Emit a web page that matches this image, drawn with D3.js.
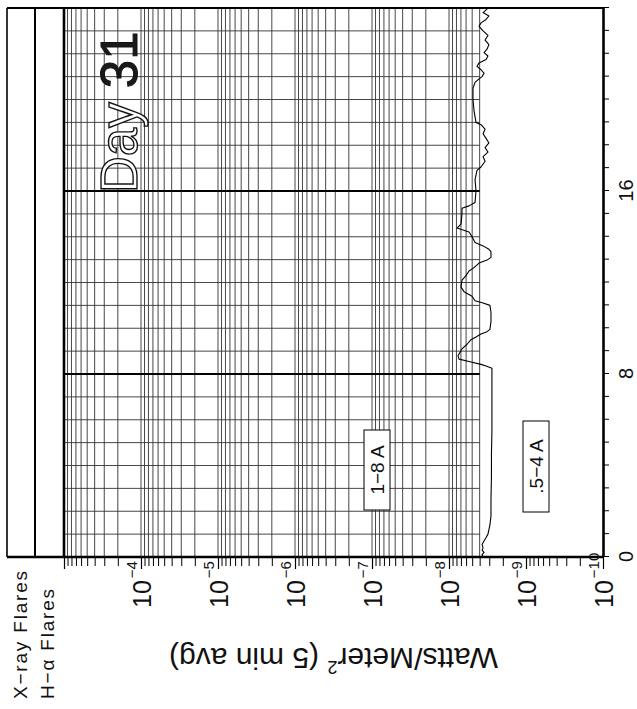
<!DOCTYPE html>
<html>
<head>
<meta charset="utf-8">
<script src="https://cdn.jsdelivr.net/npm/d3@7"></script>
<style>
  html, body { margin: 0; padding: 0; background: #fff; }
  svg { display: block; }
  text { font-family: "Liberation Sans", Arial, Helvetica, sans-serif; fill: #111; }
</style>
</head>
<body>
<svg id="chart" width="637" height="709"></svg>
<script>
// GOES X-ray flux, 5-minute averages for day 31 (hours UT, W/m^2), 1–8 Å channel
const hours = [
  0.00, 0.10, 0.20, 0.30, 0.40, 0.55, 0.70, 0.85, 1.00, 1.20, 1.40, 1.80, 2.50, 3.50, 4.50,
  5.50, 6.50, 7.50, 8.25, 8.35, 8.42, 8.55, 8.65, 8.80, 8.95, 9.10, 9.30, 9.50, 9.62, 9.75,
  9.85, 9.95, 10.30, 10.70, 11.00, 11.10, 11.20, 11.40, 11.60, 11.80, 12.10, 12.30, 12.50, 12.65, 12.85,
  12.98, 13.10, 13.35, 13.45, 13.60, 13.75, 14.00, 14.21, 14.38, 14.55, 15.00, 15.25, 15.35, 15.50, 16.00,
  16.50, 16.90, 17.05, 17.30, 17.50, 17.70, 17.90, 18.10, 18.30, 18.50, 18.70, 18.90, 19.00, 19.50, 20.00,
  20.50, 20.75, 20.90, 21.00, 21.15, 21.30, 21.45, 21.60, 21.75, 21.90, 22.05, 22.20, 22.40, 22.60, 22.80,
  23.00, 23.20, 23.35, 23.50, 23.65, 23.80, 23.95, 24.00
];
const fluxLong = [
  3.61e-9, 3.72e-9, 3.51e-9, 3.72e-9, 3.61e-9, 3.72e-9, 3.51e-9, 3.30e-9, 3.12e-9, 3.03e-9, 2.94e-9, 2.85e-9, 2.85e-9, 2.81e-9, 2.81e-9,
  2.77e-9, 2.77e-9, 2.77e-9, 2.77e-9, 3.30e-9, 3.84e-9, 5.50e-9, 7.41e-9, 7.64e-9, 7.19e-9, 6.78e-9, 5.83e-9, 5.18e-9, 4.46e-9, 3.84e-9,
  3.21e-9, 2.94e-9, 2.85e-9, 2.85e-9, 2.94e-9, 3.61e-9, 4.59e-9, 5.02e-9, 6.38e-9, 6.98e-9, 6.78e-9, 6.01e-9, 5.50e-9, 4.73e-9, 4.07e-9,
  3.21e-9, 2.85e-9, 2.85e-9, 3.03e-9, 3.61e-9, 4.59e-9, 5.02e-9, 5.50e-9, 7.87e-9, 6.98e-9, 6.78e-9, 6.78e-9, 5.50e-9, 4.59e-9, 4.46e-9,
  4.59e-9, 4.33e-9, 3.84e-9, 3.40e-9, 3.61e-9, 3.12e-9, 3.40e-9, 3.03e-9, 3.30e-9, 3.61e-9, 3.40e-9, 3.84e-9, 4.46e-9, 4.73e-9, 4.88e-9,
  4.88e-9, 4.59e-9, 4.07e-9, 3.72e-9, 3.51e-9, 3.84e-9, 4.33e-9, 4.07e-9, 3.30e-9, 3.12e-9, 3.51e-9, 3.21e-9, 3.03e-9, 3.40e-9, 3.12e-9,
  3.61e-9, 4.07e-9, 3.84e-9, 3.30e-9, 3.03e-9, 3.61e-9, 3.21e-9, 3.30e-9
];

const hourTicks = d3.range(0, 25);
const hourLabels = [0, 8, 16];
const decadeExponents = [4, 5, 6, 7, 8, 9, 10];
const bandLabels = ["X\u2212ray Flares", "H\u2212\u03b1 Flares"];
const channelLabels = ["1\u22128 A", ".5\u22124 A"];
const dayLabel = ["Day", "31"];
const fluxTitle = ["Watts/Meter", "2", " (5 min avg)"];

// The chart is laid out in its own frame (time across, flux down)
// and the whole frame is turned a quarter turn counter-clockwise.
const FW = 709;
const svg = d3.select("#chart");
const g = svg.append("g").attr("transform", `translate(0,${FW}) rotate(-90)`);

const x = d3.scaleLinear().domain([0, 24]).range([152, 701]);
const y = d3.scaleLog().domain([1e-3, 1e-10]).range([64, 603]);
const gridFloor = 4e-9;

// log sub-ticks k*10^n
const allLog = [];
for (let n = -3; n >= -10; n--) {
  for (let k = 1; k <= 9; k++) {
    const v = k * Math.pow(10, n);
    if (v <= 1.0001e-3 && v >= 0.9999e-10) allLog.push(v);
  }
}
const gridFlux = allLog.filter(v => v >= gridFloor * 0.999);
const decades = allLog.filter(v => Math.abs(Math.log10(v) - Math.round(Math.log10(v))) < 1e-9);
const minors = allLog.filter(v => !decades.includes(v));

// ---- grid ----
const grid = g.append("g").attr("fill", "none");
grid.selectAll("line.flux").data(gridFlux).join("line")
  .attr("class", "flux")
  .attr("x1", x(0)).attr("x2", x(24))
  .attr("y1", d => y(d)).attr("y2", d => y(d))
  .attr("stroke", "#333").attr("stroke-width", 0.9);
grid.selectAll("line.hour").data(hourTicks).join("line")
  .attr("class", "hour")
  .attr("x1", d => x(d)).attr("x2", d => x(d))
  .attr("y1", y(1e-3)).attr("y2", y(gridFloor))
  .attr("stroke", d => (d === 8 || d === 16) ? "#000" : "#333")
  .attr("stroke-width", d => (d === 8 || d === 16) ? 2 : 0.9);

// ---- flare bands and frame ----
const frame = g.append("g").attr("stroke", "#000").attr("fill", "none");
frame.append("line").attr("x1", x(0)).attr("x2", x(24)).attr("y1", 7).attr("y2", 7).attr("stroke-width", 1.6);
frame.append("line").attr("x1", x(0)).attr("x2", x(24)).attr("y1", 35).attr("y2", 35).attr("stroke-width", 2);
frame.append("line").attr("x1", x(0)).attr("x2", x(24)).attr("y1", y(1e-3)).attr("y2", y(1e-3)).attr("stroke-width", 2.6);
frame.append("line").attr("x1", x(24)).attr("x2", x(24)).attr("y1", 7).attr("y2", y(1e-10)).attr("stroke-width", 2.2);

bandLabels.forEach((t, i) => {
  g.append("text")
    .attr("x", 10).attr("y", i === 0 ? 27 : 54)
    .attr("font-size", 19).attr("letter-spacing", 1.8)
    .text(t);
});

// ---- time axis ----
const xAxis = g.append("g").attr("transform", `translate(0,${y(1e-10)})`)
  .call(d3.axisBottom(x).tickValues(hourTicks).tickSize(6).tickSizeOuter(0).tickPadding(10)
    .tickFormat(d => hourLabels.includes(d) ? String(d) : ""));
xAxis.select(".domain").attr("stroke", "#000").attr("stroke-width", 2.6);
xAxis.selectAll(".tick line").attr("stroke", "#000").attr("stroke-width", 1);
xAxis.selectAll(".tick text").attr("font-size", 20).attr("font-family", "Liberation Sans, Arial, sans-serif").attr("fill", "#111");

// ---- flux axis ----
const yMinor = g.append("g").attr("transform", `translate(${x(0)},0)`)
  .call(d3.axisLeft(y).tickValues(minors).tickSize(9).tickSizeOuter(0).tickFormat(""));
yMinor.select(".domain").remove();
yMinor.selectAll(".tick line").attr("stroke", "#000").attr("stroke-width", 1);

const yMajor = g.append("g").attr("transform", `translate(${x(0)},0)`)
  .call(d3.axisLeft(y).tickValues(decades).tickSize(12).tickSizeOuter(0).tickFormat(""));
yMajor.select(".domain").remove();
yMajor.selectAll(".tick line").attr("stroke", "#000").attr("stroke-width", 1.2);

g.append("line")
  .attr("x1", x(0)).attr("x2", x(0)).attr("y1", 7).attr("y2", y(1e-10))
  .attr("stroke", "#000").attr("stroke-width", 2.6);

decadeExponents.forEach(e => {
  const t = g.append("text")
    .attr("x", 101).attr("y", y(Math.pow(10, -e)) + 10)
    .attr("font-size", 25);
  t.append("tspan").text("10");
  t.append("tspan").attr("font-size", 15).attr("dy", -14).attr("dx", 2).text("\u2212" + e);
});

const title = g.append("text")
  .attr("transform", `translate(61,${y(Math.pow(10, -6.5))}) rotate(-90)`)
  .attr("text-anchor", "middle").attr("font-size", 30);
title.append("tspan").text(fluxTitle[0]);
title.append("tspan").attr("font-size", 18).attr("dy", -13).text(fluxTitle[1]);
title.append("tspan").attr("dy", 13).text(fluxTitle[2]);

// ---- channel keys ----
const keys = [
  { label: channelLabels[0], u0: 199, u1: 279, v0: 364, v1: 390 },
  { label: channelLabels[1], u0: 197, u1: 288, v0: 523, v1: 549 }
];
keys.forEach(k => {
  g.append("rect")
    .attr("x", k.u0).attr("y", k.v0).attr("width", k.u1 - k.u0).attr("height", k.v1 - k.v0)
    .attr("fill", "#fff").attr("stroke", "#000").attr("stroke-width", 1);
  g.append("text")
    .attr("x", (k.u0 + k.u1) / 2).attr("y", (k.v0 + k.v1) / 2 + 7)
    .attr("text-anchor", "middle").attr("font-size", 19)
    .text(k.label);
});

// ---- day label ----
const day = g.append("text")
  .attr("x", 516).attr("y", 137)
  .attr("font-size", 51);
day.append("tspan").attr("fill", "#fff").attr("stroke", "#111").attr("stroke-width", 1.4).text(dayLabel[0] + " ");
day.append("tspan").attr("fill", "#1a1a1a").attr("stroke", "#111").attr("stroke-width", 1).text(dayLabel[1]);

// ---- flux curve ----
const series = hours.map((h, i) => ({ h, f: fluxLong[i] }));
g.append("path")
  .datum(series)
  .attr("fill", "none").attr("stroke", "#000").attr("stroke-width", 1.1)
  .attr("stroke-linejoin", "round")
  .attr("d", d3.line().x(d => x(d.h)).y(d => y(d.f)));
</script>
</body>
</html>
